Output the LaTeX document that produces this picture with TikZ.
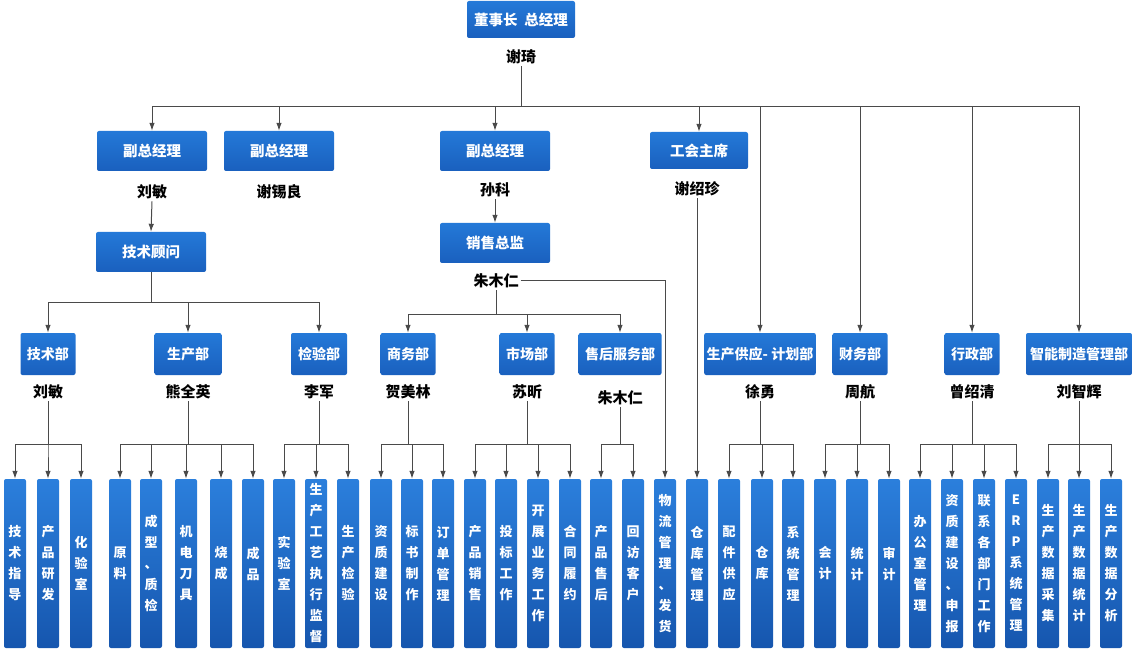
\documentclass[tikz,border=0pt]{standalone}
\usepackage{fontspec}
\setmainfont{Noto Sans CJK SC}
\usetikzlibrary{positioning,arrows.meta}

\definecolor{boxtop}{HTML}{2479D8}
\definecolor{boxbot}{HTML}{1A60BE}
\definecolor{leaftop}{HTML}{2B7FDC}
\definecolor{leafbot}{HTML}{1656AE}
\definecolor{wirec}{HTML}{4A4A4A}

% stack the characters of a label one above the other
\def\vtend{\vtend}
\def\gobbleone#1{}
\def\vt#1{\expandafter\vtA#1\vtend}
\def\vtA#1{#1\vtB}
\def\vtB#1{\ifx#1\vtend\expandafter\gobbleone\else\expandafter\vtC\fi{#1}}
\def\vtC#1{\\#1\vtB}

\begin{document}
\begin{tikzpicture}[
  x=1pt, y=-1pt,
  hbox/.style={rounded corners=2pt, top color=boxtop, bottom color=boxbot, text=white,
    font=\bfseries\fontsize{14.5}{17}\selectfont, minimum width=110pt, minimum height=40pt, inner xsep=6pt},
  dbox/.style={hbox, minimum width=55pt, minimum height=42pt, inner xsep=2.5pt,
    font=\bfseries\fontsize{14}{17}\selectfont},
  leaf/.style={hbox, top color=leaftop, bottom color=leafbot, minimum width=22pt, minimum height=169pt,
    inner sep=0pt, align=center, font=\bfseries\fontsize{13}{21}\selectfont},
  who/.style={font=\bfseries\fontsize{15}{17}\selectfont, inner sep=2pt},
  wire/.style={draw=wirec, line width=1pt},
  arr/.style={wire, -{Latex[length=8pt,width=5.5pt]}}
]
\useasboundingbox (0,0) rectangle (1132,652);

\coordinate (topbus) at (0,107);
\coordinate (advbus) at (0,302);
\coordinate (salesbus) at (0,314);
\coordinate (leafbus) at (0,444);

% top levels
\node[hbox, minimum width=108pt, minimum height=37pt] (ceo) at (521,19.5) {董事长\hspace{7pt}总经理};
\node[who] (nceo) at (521,57) {谢琦};
\node[hbox] (vp1) at (152,151) {副总经理};
\node[who] (nvp1) at (152,192) {刘敏};
\node[hbox] (vp2) at (279,151) {副总经理};
\node[who] (nvp2) at (279,192) {谢锡良};
\node[hbox] (vp3) at (495,151) {副总经理};
\node[who] (nvp3) at (495,190) {孙科};
\node[hbox, minimum width=98pt, minimum height=37pt] (union) at (699,150.5) {工会主席};
\node[who] (nunion) at (697,189) {谢绍珍};
\node[hbox] (adv) at (151,252) {技术顾问};
\node[hbox] (sales) at (495,243) {销售总监};
\node[who] (nsales) at (496,281) {朱木仁};

% departments
\foreach \n/\x/\w/\t/\m/\my in {
  d1/48/55/技术部/刘敏/392, d2/188/67/生产部/熊全英/392, d3/319/56/检验部/李军/392,
  d4/408/55/商务部/贺美林/392, d5/527/55/市场部/苏昕/392, d6/620/83/售后服务部/朱木仁/398,
  d7/760/110/生产供应- 计划部/徐勇/392, d8/860/55/财务部/周航/392,
  d9/972/55/行政部/曾绍清/392, d10/1079/106/智能制造管理部/刘智辉/392} {
  \node[dbox, minimum width=\w pt] (\n) at (\x,354) {\t};
  \node[who] (n\n) at (\x,\my) {\m};
}

% sections
\foreach \x/\t [count=\i] in {
  15/技术指导, 48/产品研发, 81/化验室, 120/原料, 151/成型、质检, 186/机电刀具, 221/烧成, 253/成品,
  284/实验室, 316/生产工艺执行监督, 348/生产检验, 381/资质建设, 412/标书制作, 443/订单管理,
  475/产品销售, 506/投标工作, 538/开展业务工作, 570/合同履约, 601/产品售后, 633/回访客户,
  665/物流管理、发货, 697/仓库管理, 729/配件供应, 762/仓库, 793/系统管理, 825/会计, 857/统计,
  889/审计, 920/办公室管理, 952/资质建设、申报, 984/联系各部门工作, 1016/ERP系统管理,
  1048/生产数据采集, 1079/生产数据统计, 1111/生产数据分析}
  \node[leaf] (s\i) at (\x,563.5) {\vt{\t}};

% connectors
\draw[wire] (nceo.south) -- (nceo.south |- topbus);
\foreach \c in {vp1,vp2,vp3,union,d7,d8,d9,d10}
  \draw[arr] (nceo.south |- topbus) -| (\c.north);
\draw[arr] (nvp1.south) -- (adv.north);
\draw[arr] (nvp3.south) -- (sales.north);
\foreach \c in {d1,d2,d3}
  \draw[arr] (adv.south) -- (adv.south |- advbus) -| (\c.north);
\foreach \c in {d4,d5,d6}
  \draw[arr] (nsales.south) -- (nsales.south |- salesbus) -| (\c.north);
\draw[arr] (nsales.east) -| (s21.north);
\draw[arr] (nunion.south) -- (nunion.south |- s22.north);
\foreach \p/\l in {nd1/{1,2,3}, nd2/{4,5,6,7,8}, nd3/{9,10,11}, nd4/{12,13,14},
  nd5/{15,16,17,18}, nd6/{19,20}, nd7/{23,24,25}, nd8/{26,27,28}, nd9/{29,30,31,32},
  nd10/{33,34,35}}
  \foreach \i in \l
    \draw[arr] (\p.south) -- (\p.south |- leafbus) -| (s\i.north);
\end{tikzpicture}
\end{document}
